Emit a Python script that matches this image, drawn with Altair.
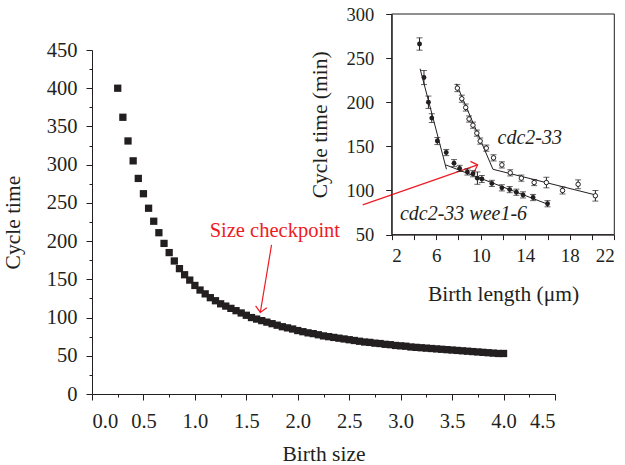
import altair as alt
import pandas as pd

# ---------------- main panel data ----------------
birth_size = [0.25, 0.30, 0.35, 0.40, 0.45, 0.50, 0.55, 0.60, 0.65, 0.70,
              0.75, 0.80, 0.85, 0.90, 0.95, 1.00, 1.05, 1.10, 1.15, 1.20,
              1.25, 1.30, 1.35, 1.40, 1.45, 1.50, 1.55, 1.60, 1.65, 1.70,
              1.75, 1.80, 1.85, 1.90, 1.95, 2.00, 2.05, 2.10, 2.15, 2.20,
              2.25, 2.30, 2.35, 2.40, 2.45, 2.50, 2.55, 2.60, 2.65, 2.70,
              2.75, 2.80, 2.85, 2.90, 2.95, 3.00, 3.05, 3.10, 3.15, 3.20,
              3.25, 3.30, 3.35, 3.40, 3.45, 3.50, 3.55, 3.60, 3.65, 3.70,
              3.75, 3.80, 3.85, 3.90, 3.95, 4.00]
cycle_time = [400, 362, 331, 305, 282, 262, 243, 226, 211, 197,
              185, 174, 164, 156, 149, 142, 136, 131, 126, 122,
              118, 115, 112, 109, 106, 103, 100, 98, 96, 94,
              92, 90, 88, 86.5, 85, 83, 81.5, 80, 79, 77.5,
              76, 75, 74, 73, 72, 71, 70, 69, 68, 67.5,
              66.5, 66, 65, 64.5, 63.5, 63, 62.5, 61.5, 61, 60.5,
              60, 59.5, 59, 58.5, 58, 57.5, 57, 56.5, 56, 55.5,
              55, 54.5, 54, 53.5, 53, 53]

main_x_ticks = [0.0, 0.5, 1.0, 1.5, 2.0, 2.5, 3.0, 3.5, 4.0, 4.5]
main_x_minor = [0.25, 0.75, 1.25, 1.75, 2.25, 2.75, 3.25, 3.75, 4.25]
main_y_ticks = [0, 50, 100, 150, 200, 250, 300, 350, 400, 450]
main_y_minor = [25, 75, 125, 175, 225, 275, 325, 375, 425]

# annotation (main data units)
note_text = ["Size checkpoint"]
note_x = [1.777]
note_y = [206]
arrow1_start = [1.745, 195]
arrow1_end = [1.636, 106.7]
arrow2_start = [2.631, 247.4]
arrow2_end = [3.748, 299.7]

# ---------------- inset data ----------------
wee_x = [4.5, 4.9, 5.3, 5.6, 6.1, 6.9, 7.6, 8.1, 8.8, 9.3, 9.7, 10.1,
         11.0, 11.9, 12.6, 13.2, 13.8, 14.7, 16.0]
wee_y = [266, 228, 200, 182, 156, 143, 131, 125, 121, 119, 114, 113,
         108, 103, 101, 98, 95, 92, 85]
wee_err = [7, 8, 7, 5, 4, 3.5, 4, 3.5, 3.5, 3.5, 7, 4,
           3.5, 3.5, 3.5, 3.5, 3.5, 3.5, 3.5]

cdc_x = [7.9, 8.3, 8.65, 8.95, 9.3, 9.65, 9.95, 10.5, 11.15, 11.9, 12.65,
         13.65, 14.8, 15.9, 17.35, 18.75, 20.3]
cdc_y = [216, 204, 194, 181, 174, 165, 156, 148, 137, 129, 120,
         114, 109, 109, 100, 107, 94]
cdc_err = [4, 4, 4, 3.5, 3.5, 3.5, 3.5, 3.5, 3.5, 3.5, 3.5,
           3.5, 3.5, 6, 4, 5, 6]

fit_seg = ["w1", "w1", "w2", "w2", "c1", "c1", "c2", "c2"]
fit_x = [4.55, 6.92, 6.85, 15.9, 7.8, 11.1, 11.1, 20.3]
fit_y = [238, 124, 129, 85, 221, 124, 124, 95]

inset_x_ticks = [2, 4, 6, 8, 10, 12, 14, 16, 18, 20, 22]
inset_y_ticks = [50, 100, 150, 200, 250, 300]
inset_box = {"x0": [2], "x1": [22], "y0": [50], "y1": [300]}

label_text = ["cdc2-33", "cdc2-33 wee1-6"]
label_x = [14.4, 8.45]
label_y = [152.5, 66.5]

# ---------------- styling ----------------
FONT = "Liberation Serif"
INK = "#231f20"
RED = "#ed1c24"
W, H = 463, 344

XS = alt.Scale(domain=[0, 4.5], nice=False, zero=False)
YS = alt.Scale(domain=[0, 450], nice=False, zero=False)
MAIN_XA = alt.Axis(values=main_x_ticks, format=".1f", title="Birth size", orient="bottom",
                   tickSize=6, labelPadding=11, titlePadding=12, grid=False,
                   labelFontSize=20.5, titleFontSize=21.5)
MAIN_YA = alt.Axis(values=main_y_ticks, title="Cycle time", orient="left",
                   tickSize=6, labelPadding=9, titlePadding=22, grid=False,
                   labelFontSize=20.5, titleFontSize=21.5)


def mx(field):
    return alt.X(field, scale=XS, axis=MAIN_XA)


def my(field):
    return alt.Y(field, scale=YS, axis=MAIN_YA)


main_df = pd.DataFrame({"size": birth_size, "time": cycle_time})
points = alt.Chart(main_df).mark_square(size=53, color=INK, opacity=1).encode(
    x=mx("size:Q"), y=my("time:Q"))

note_df = pd.DataFrame({"t": note_text, "x": note_x, "y": note_y})
note = alt.Chart(note_df).mark_text(
    font=FONT, fontSize=20.5, color=RED, align="center", baseline="alphabetic"
).encode(x=mx("x:Q"), y=my("y:Q"), text="t:N")

arrows_df = pd.DataFrame({
    "x0": [arrow1_start[0], arrow2_start[0]], "y0": [arrow1_start[1], arrow2_start[1]],
    "x1": [arrow1_end[0], arrow2_end[0]], "y1": [arrow1_end[1], arrow2_end[1]],
})
arrow_lines = alt.Chart(arrows_df).mark_rule(color=RED, strokeWidth=1.2).encode(
    x=mx("x0:Q"), y=my("y0:Q"), x2="x1:Q", y2="y1:Q")

HEAD = "M-0.8,0.8L0,0L0.8,0.8"
head1 = alt.Chart(pd.DataFrame({"x": [arrow1_end[0]], "y": [arrow1_end[1]]})).mark_point(
    shape=HEAD, size=200, filled=False, color=RED, strokeWidth=1.2, angle=189, opacity=1
).encode(x=mx("x:Q"), y=my("y:Q"))
head2 = alt.Chart(pd.DataFrame({"x": [arrow2_end[0]], "y": [arrow2_end[1]]})).mark_point(
    shape=HEAD, size=200, filled=False, color=RED, strokeWidth=1.2, angle=71, opacity=1
).encode(x=mx("x:Q"), y=my("y:Q"))

main_layer = alt.layer(points, note, arrow_lines, head1, head2)

minor = alt.Chart(main_df).mark_point(opacity=0).encode(
    x=alt.X("size:Q", scale=XS, axis=alt.Axis(
        values=main_x_minor, labels=False, domain=False, tickSize=3, title=None,
        orient="bottom", grid=False)),
    y=alt.Y("time:Q", scale=YS, axis=alt.Axis(
        values=main_y_minor, labels=False, domain=False, tickSize=3, title=None,
        orient="left", grid=False)),
)

# ---------------- inset ----------------
IX0, IX1 = 299.7, 522.3
IY_BOT, IY_TOP = 184.6, -36.0
IXS = alt.Scale(domain=[2, 22], range=[IX0, IX1], nice=False, zero=False)
IYS = alt.Scale(domain=[50, 300], range=[IY_BOT, IY_TOP], nice=False, zero=False)
INSET_XA = alt.Axis(values=inset_x_ticks, orient="bottom", offset=-(H - IY_BOT),
                    labelExpr="datum.value % 4 == 2 ? datum.label : ''",
                    title="Birth length (μm)", tickSize=5, labelPadding=7, titlePadding=18,
                    grid=False, labelFontSize=19, titleFontSize=21.5)
INSET_YA = alt.Axis(values=inset_y_ticks, orient="left", offset=-IX0,
                    title="Cycle time (min)", tickSize=6, labelPadding=12, titlePadding=14,
                    grid=False, labelFontSize=18.5, titleFontSize=21.5)


def ix(field):
    return alt.X(field, scale=IXS, axis=INSET_XA)


def iy(field):
    return alt.Y(field, scale=IYS, axis=INSET_YA)


box = alt.Chart(pd.DataFrame(inset_box)).mark_rect(
    fill="transparent", stroke=INK, strokeWidth=1
).encode(x=ix("x0:Q"), x2="x1:Q", y=iy("y0:Q"), y2="y1:Q")

fit_df = pd.DataFrame({"seg": fit_seg, "x": fit_x, "y": fit_y})
fits = alt.Chart(fit_df).mark_line(color=INK, strokeWidth=1).encode(
    x=ix("x:Q"), y=iy("y:Q"), detail="seg:N")


def series(xs, ys, errs, open_marker):
    df = pd.DataFrame({"x": xs, "y": ys, "e": errs})
    base = alt.Chart(df).transform_calculate(lo="datum.y - datum.e", hi="datum.y + datum.e")
    bars = base.mark_rule(color=INK, strokeWidth=1).encode(
        x=ix("x:Q"), y=iy("lo:Q"), y2="hi:Q")
    cap_lo = base.mark_tick(color=INK, orient="horizontal", size=6, thickness=1).encode(
        x=ix("x:Q"), y=iy("lo:Q"))
    cap_hi = base.mark_tick(color=INK, orient="horizontal", size=6, thickness=1).encode(
        x=ix("x:Q"), y=iy("hi:Q"))
    if open_marker:
        pts = base.mark_point(shape="circle", filled=True, fill="white", stroke=INK,
                              strokeWidth=1, size=20, opacity=1)
    else:
        pts = base.mark_point(shape="circle", filled=True, color=INK, size=24, opacity=1)
    pts = pts.encode(x=ix("x:Q"), y=iy("y:Q"))
    return [bars, cap_lo, cap_hi, pts]


lab_df = pd.DataFrame({"t": label_text, "x": label_x, "y": label_y})
labels = alt.Chart(lab_df).mark_text(
    font=FONT, fontSize=20, fontStyle="italic", color=INK, align="center", baseline="alphabetic"
).encode(x=ix("x:Q"), y=iy("y:Q"), text="t:N")

inset_layer = alt.layer(box, fits, *series(wee_x, wee_y, wee_err, False),
                        *series(cdc_x, cdc_y, cdc_err, True), labels)

chart = alt.layer(main_layer, minor, inset_layer).resolve_scale(
    x="independent", y="independent"
).properties(
    width=W, height=H,
    padding={"left": 92, "top": 50, "right": 70, "bottom": 71},
    autosize=alt.AutoSizeParams(type="none"),
).configure_view(stroke="transparent").configure_axis(
    labelFont=FONT, titleFont=FONT,
    titleFontWeight="normal", labelColor=INK, titleColor=INK,
    domainColor=INK, tickColor=INK, domainWidth=1, tickWidth=1,
)

chart.save("out.html", embed_options={"renderer": "svg", "actions": False})
